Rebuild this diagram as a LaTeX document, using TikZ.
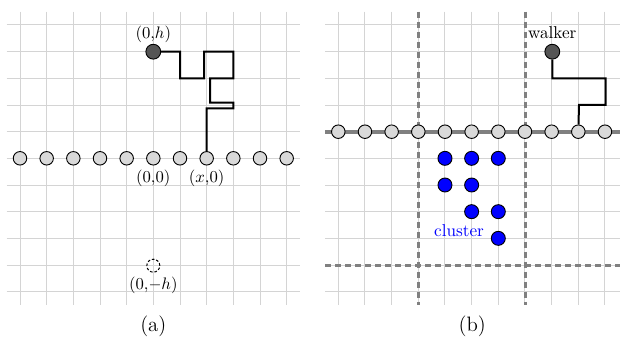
\documentclass[tikz,border=0pt]{standalone}
\definecolor{gridgray}{HTML}{D4D4D4}
\definecolor{sitegray}{HTML}{D9D9D9}
\definecolor{linegray}{HTML}{808080}
\definecolor{walkgray}{HTML}{555555}
\definecolor{clusterblue}{HTML}{0000FF}
\tikzset{
  gridline/.style={draw=gridgray, line width=0.6pt},
  site/.style={circle, draw=black, fill=sitegray, line width=0.55pt, inner sep=0pt, minimum size=8.1pt},
  walkerdot/.style={circle, draw=black, fill=walkgray, line width=0.55pt, inner sep=0pt, minimum size=8.9pt},
  ghost/.style={circle, draw=black, dashed, dash pattern=on 1.6pt off 1.1pt, line width=0.6pt, inner sep=0pt, minimum size=7.8pt},
  bluedot/.style={circle, draw=black, fill=clusterblue, line width=0.55pt, inner sep=0pt, minimum size=8.4pt},
  walkpath/.style={draw=black, line width=1.2pt},
  boundary/.style={draw=linegray, line width=2.2pt},
  cutline/.style={draw=linegray, line width=1.8pt, dash pattern=on 3.8pt off 2.2pt},
  lbl/.style={font=\fontsize{10.3}{12}\selectfont, inner sep=0pt},
  captiontext/.style={font=\fontsize{12.5}{14}\selectfont, inner sep=0pt}
}
\begin{document}
\begin{tikzpicture}[x=0.6pt,y=-0.6pt]
\useasboundingbox (0,0) rectangle (620,339);
% ---------- panel (a) grid ----------
\foreach \i in {0,...,10} {
  \draw[gridline] ({20+26.667*\i},11.7) -- ({20+26.667*\i},305);
  \draw[gridline] (6.7,{25+26.667*\i}) -- (300,{25+26.667*\i});
}
% ---------- panel (b) grid ----------
\foreach \i in {0,...,10} {
  \draw[gridline] ({338.3+26.667*\i},11.7) -- ({338.3+26.667*\i},305);
  \draw[gridline] (325,{25+26.667*\i}) -- (620,{25+26.667*\i});
}
% ---------- panel (b) boundary and cut lines ----------
\draw[boundary] (325,131.7) -- (620,131.7);
\draw[cutline] (418.3,11.7) -- (418.3,305);
\draw[cutline] (525,11.7) -- (525,305);
\draw[cutline] (325,265.7) -- (620,265.7);
% ---------- panel (a) nodes ----------
\foreach \i in {0,...,10} {
  \node[site] (a\i) at ({20+26.667*\i},158.3) {};
}
\node[walkerdot] (wa) at (153.3,51.7) {};
\node[ghost] (ga) at (153.3,265.7) {};
\node[lbl] (la) at (153.3,34.5) {$(0{,}h)$};
\node[lbl] (l00) at (153.3,178) {$(0{,}0)$};
\node[lbl] (lx0) at (206.7,178) {$(x{,}0)$};
\node[lbl] (lmh) at (153.3,285) {$(0{,}{-h})$};
\node[captiontext] (capa) at (153.3,326) {(a)};
% ---------- panel (b) nodes ----------
\foreach \i in {0,...,10} {
  \node[site] (b\i) at ({338.3+26.667*\i},131.7) {};
}
\node[walkerdot] (wb) at (552.3,51.7) {};
\node[lbl] (lw) at (552.3,33) {walker};
\foreach \c/\r [count=\k] in {4/5,5/5,6/5,4/6,5/6,5/7,6/7,6/8} {
  \node[bluedot] (c\k) at ({338.3+26.667*\c},{25+26.667*\r}) {};
}
\node[lbl, text=clusterblue] (lc) at (459,231) {cluster};
\node[captiontext] (capb) at (472.3,326) {(b)};
% ---------- walks ----------
\draw[walkpath] (wa) -- (180,51.7) -- (180,78.3) -- (204,78.3) -- (204,51.7)
  -- (233.3,51.7) -- (233.3,78.3) -- (210,78.3) -- (210,102.7) -- (233.3,102.7)
  -- (233.3,108.3) -- (206.7,108.3) -- (a7);
\draw[walkpath] (wb) -- (552.3,78.3) -- (605.7,78.3) -- (605.7,105) -- (579,105) -- (b9);
\end{tikzpicture}
\end{document}
